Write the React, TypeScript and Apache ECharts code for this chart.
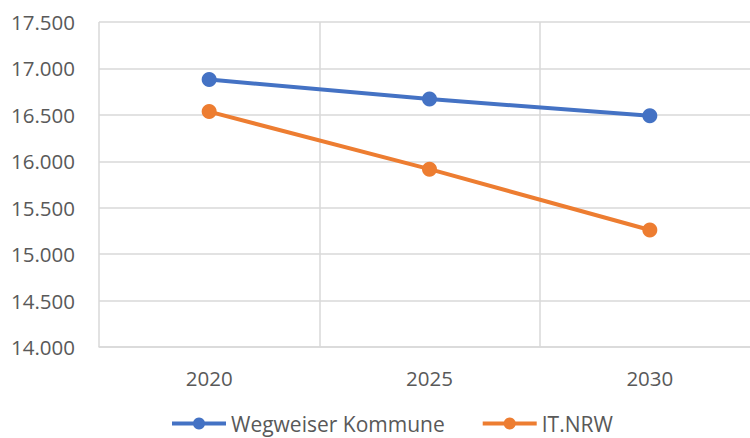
import React, { useEffect, useRef } from "react";
import * as echarts from "echarts";

const categories = ["2020", "2025", "2030"];
const wegweiser = [16880, 16670, 16490];
const itNrw = [16535, 15915, 15260];
const seriesNames = ["Wegweiser Kommune", "IT.NRW"];

const fmt = (v: number) => {
  const s = String(Math.round(v));
  return s.replace(/\B(?=(\d{3})+(?!\d))/g, ".");
};

export default function App() {
  const ref = useRef<HTMLDivElement>(null);
  useEffect(() => {
    if (!ref.current) return;
    const chart = echarts.init(ref.current, undefined, { renderer: "svg" });
    const font = "Open Sans";
    chart.setOption({
      animation: false,
      backgroundColor: "#ffffff",
      textStyle: { fontFamily: font },
      grid: {
        left: 99,
        top: 22,
        height: 325,
        width: 661,
        containLabel: false,
        outerBoundsMode: "none",
      },
      legend: {
        top: 413,
        left: 170,
        padding: 0,
        itemWidth: 54,
        itemHeight: 15,
        itemGap: 36,
        lineStyle: { width: 4 },
        textStyle: { fontFamily: font, fontSize: 21, color: "#595959" },
        data: seriesNames,
      },
      xAxis: {
        type: "category",
        data: categories,
        boundaryGap: true,
        axisLine: { show: true, lineStyle: { color: "#d9d9d9", width: 1.5 } },
        axisTick: { show: false },
        splitLine: { show: true, lineStyle: { color: "#d9d9d9", width: 1.5 } },
        axisLabel: { color: "#595959", fontSize: 20.5, margin: 20, fontFamily: font },
      },
      yAxis: {
        type: "value",
        min: 14000,
        max: 17500,
        interval: 500,
        axisLine: { show: false },
        axisTick: { show: false },
        splitLine: { show: true, lineStyle: { color: "#d9d9d9", width: 1.5 } },
        axisLabel: {
          color: "#595959",
          fontSize: 20.5,
          margin: 24,
          fontFamily: font,
          formatter: (v: number) => fmt(v),
        },
      },
      series: [
        {
          name: seriesNames[0],
          type: "line",
          data: wegweiser,
          symbol: "circle",
          symbolSize: 15,
          color: "#4472c4",
          lineStyle: { width: 4, color: "#4472c4" },
          itemStyle: { color: "#4472c4" },
        },
        {
          name: seriesNames[1],
          type: "line",
          data: itNrw,
          symbol: "circle",
          symbolSize: 15,
          color: "#ed7d31",
          lineStyle: { width: 4, color: "#ed7d31" },
          itemStyle: { color: "#ed7d31" },
        },
      ],
    });
    return () => chart.dispose();
  }, []);
  return <div ref={ref} style={{ width: 750, height: 438, position: "absolute", left: 0, top: 0 }} />;
}
